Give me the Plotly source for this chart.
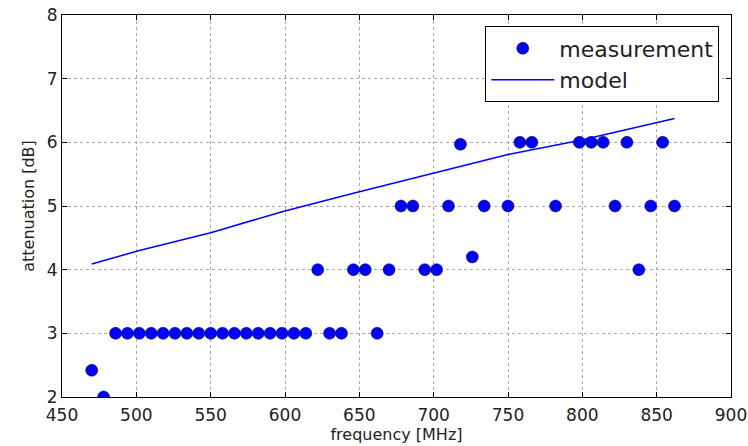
import plotly.graph_objects as go

# measurement data
meas_freq = [470, 478, 486, 494, 502, 510, 518, 526, 534, 542, 550, 558, 566, 574,
             582, 590, 598, 606, 614, 622, 630, 638, 646, 654, 662, 670, 678, 686,
             694, 702, 710, 718, 726, 734, 750, 758, 766, 782, 798, 806, 814, 822,
             830, 838, 846, 854, 862]
meas_att = [2.42, 2.0, 3, 3, 3, 3, 3, 3, 3, 3, 3, 3, 3, 3,
            3, 3, 3, 3, 3, 4, 3, 3, 4, 4, 3, 4, 5, 5,
            4, 4, 5, 5.97, 4.2, 5, 5, 6, 6, 5, 6, 6, 6, 5,
            6, 4, 5, 6, 5]

# model curve
model_freq = [470, 502, 550, 598, 646, 702, 750, 798, 862]
model_att = [4.09, 4.30, 4.58, 4.91, 5.20, 5.53, 5.81, 6.03, 6.375]

x_ticks = [450, 500, 550, 600, 650, 700, 750, 800, 850, 900]
y_ticks = [2, 3, 4, 5, 6, 7, 8]

FONT = "DejaVu Sans"

fig = go.Figure()
fig.add_trace(go.Scatter(
    x=meas_freq, y=meas_att, mode="markers", name="measurement",
    marker=dict(color="#0000ff", size=12, line=dict(color="#000000", width=0.5)),
))
fig.add_trace(go.Scatter(
    x=model_freq, y=model_att, mode="lines", name="model",
    line=dict(color="#0000ff", width=1.5),
))

axis_common = dict(
    showline=True, linecolor="black", linewidth=1, mirror="allticks",
    ticks="inside", ticklen=5, tickcolor="black", automargin=False,
    ticklabeloverflow="allow",
    showgrid=True, gridcolor="#a8a8a8", griddash="3px,3px", gridwidth=1,
    zeroline=False, tickfont=dict(family=FONT, size=17, color="#222222"),
)

fig.update_xaxes(
    range=[450, 900], tickvals=x_ticks, ticktext=[str(v) for v in x_ticks],
    ticklabelstandoff=3,
    title=dict(text="frequency [MHz]", font=dict(family=FONT, size=16, color="#222222"), standoff=4),
    **axis_common,
)
fig.update_yaxes(
    range=[2, 8], tickvals=y_ticks, ticktext=[str(v) for v in y_ticks],
    title=dict(text="attenuation [dB]", font=dict(family=FONT, size=16, color="#222222"), standoff=8),
    **axis_common,
)

fig.update_layout(
    width=748, height=446,
    margin=dict(l=62, r=17, t=15, b=49, autoexpand=False),
    plot_bgcolor="white", paper_bgcolor="white",
    font=dict(family=FONT, color="#222222"),
    legend=dict(
        x=0.9825, y=0.97, xanchor="right", yanchor="top",
        bgcolor="white", bordercolor="black", borderwidth=1,
        font=dict(family=FONT, size=22, color="#222222"),
        tracegroupgap=0, itemwidth=63,
    ),
)

# remove the default 8px page margin so the figure sits at the window origin
fig.write_html("out.html", config={"displayModeBar": False},
               post_script="document.body.style.margin='0';")
